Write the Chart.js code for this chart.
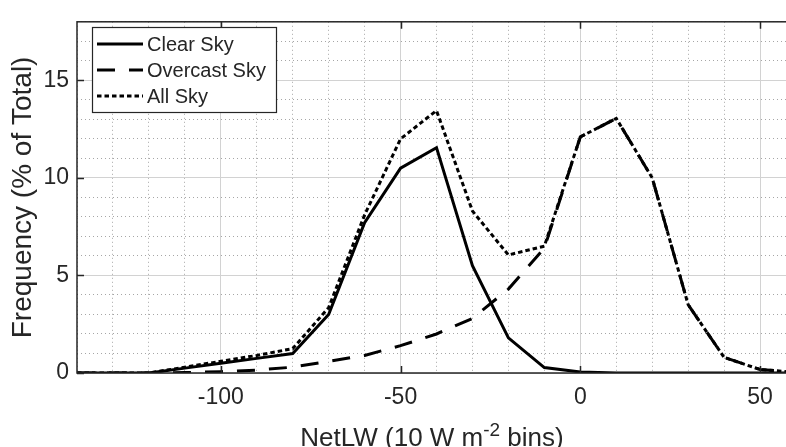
<!DOCTYPE html>
<html>
<head>
<meta charset="utf-8">
<script src="https://cdn.jsdelivr.net/npm/chart.js@4.4.1/dist/chart.umd.min.js"></script>
<style>
  html, body { margin: 0; padding: 0; background: #fff; overflow: hidden; }
  #wrap { position: absolute; left: 0; top: 0; width: 797px; height: 447px; }
</style>
</head>
<body>
<div id="wrap"><canvas id="chart"></canvas></div>
<script>
'use strict';

// NetLW bin centres (W m-2)
const BINS = [-140, -130, -120, -110, -100, -90, -80, -70, -60, -50, -40, -30, -20, -10, 0, 10, 20, 30, 40, 50, 60];

// frequency, % of total
const CLEAR_SKY    = [0, 0, 0, 0.25, 0.5, 0.75, 1.0, 3.0, 7.7, 10.5, 11.55, 5.5, 1.8, 0.28, 0.05, 0, 0, 0, 0, 0, 0];
const OVERCAST_SKY = [0, 0, 0, 0.02, 0.07, 0.15, 0.3, 0.6, 0.9, 1.4, 2.0, 2.8, 4.3, 6.4, 12.1, 13.05, 10.0, 3.5, 0.8, 0.18, 0.03];
const ALL_SKY      = [0, 0, 0, 0.3, 0.6, 0.9, 1.25, 3.35, 8.1, 12.0, 13.45, 8.3, 6.05, 6.5, 12.1, 13.05, 10.0, 3.5, 0.8, 0.18, 0.03];

const X_TICKS = [-100, -50, 0, 50];
const Y_TICKS = [0, 5, 10, 15];

const FONT = '"Liberation Sans", Arial, Helvetica, sans-serif';
const INK = '#262626';

const toPoints = (ys) => ys.map((v, i) => ({ x: BINS[i], y: v }));

// axes box, inward tick marks, x label with superscript, legend
const matlabAxes = {
  id: 'matlabAxes',
  afterDatasetsDraw(chart) {
    const { ctx, chartArea: a, scales: { x, y } } = chart;
    ctx.save();
    ctx.strokeStyle = INK;
    ctx.lineWidth = 1.5;
    ctx.strokeRect(a.left, a.top, a.right - a.left, a.bottom - a.top);
    ctx.beginPath();
    X_TICKS.forEach(v => {
      const px = Math.round(x.getPixelForValue(v)) + 0.5;
      ctx.moveTo(px, a.bottom); ctx.lineTo(px, a.bottom - 7);
      ctx.moveTo(px, a.top); ctx.lineTo(px, a.top + 7);
    });
    Y_TICKS.forEach(v => {
      const py = Math.round(y.getPixelForValue(v)) + 0.5;
      ctx.moveTo(a.left, py); ctx.lineTo(a.left + 7, py);
      ctx.moveTo(a.right, py); ctx.lineTo(a.right - 7, py);
    });
    ctx.stroke();

    // x axis title
    const parts = [['NetLW (10 W m', 26, 0], ['-2', 19, -10], [' bins)', 26, 0]];
    ctx.fillStyle = INK;
    ctx.textBaseline = 'alphabetic';
    ctx.textAlign = 'left';
    let total = 0;
    parts.forEach(p => { ctx.font = `${p[1]}px ${FONT}`; total += ctx.measureText(p[0]).width; });
    let cx = 432 - total / 2;
    parts.forEach(p => {
      ctx.font = `${p[1]}px ${FONT}`;
      ctx.fillText(p[0], cx, 446 + p[2]);
      cx += ctx.measureText(p[0]).width;
    });
    ctx.restore();
  },
  afterDraw(chart) {
    const { ctx } = chart;
    ctx.save();
    ctx.fillStyle = '#fff';
    ctx.fillRect(92, 27, 184, 85);
    ctx.strokeStyle = INK;
    ctx.lineWidth = 1.2;
    ctx.strokeRect(92.5, 27.5, 184, 85);
    ctx.font = `20px ${FONT}`;
    ctx.textBaseline = 'middle';
    ctx.textAlign = 'left';
    chart.data.datasets.forEach((ds, i) => {
      const ry = 44 + i * 26;
      ctx.beginPath();
      ctx.strokeStyle = '#000';
      ctx.lineWidth = ds.borderWidth;
      ctx.setLineDash(ds.borderDash || []);
      ctx.moveTo(97, ry);
      ctx.lineTo(143, ry);
      ctx.stroke();
      ctx.setLineDash([]);
      ctx.fillStyle = INK;
      ctx.fillText(ds.label, 147, ry + 1);
    });
    ctx.restore();
  }
};

new Chart(document.getElementById('chart'), {
  type: 'line',
  data: {
    datasets: [{
      label: 'Clear Sky',
      data: toPoints(CLEAR_SKY),
      borderColor: '#000',
      borderWidth: 3,
      borderDash: [],
      pointRadius: 0,
      tension: 0
    }, {
      label: 'Overcast Sky',
      data: toPoints(OVERCAST_SKY),
      borderColor: '#000',
      borderWidth: 3,
      borderDash: [18, 14],
      pointRadius: 0,
      tension: 0
    }, {
      label: 'All Sky',
      data: toPoints(ALL_SKY),
      borderColor: '#000',
      borderWidth: 3,
      borderDash: [4.5, 3],
      pointRadius: 0,
      tension: 0
    }]
  },
  options: {
    responsive: true,
    maintainAspectRatio: false,
    animation: false,
    layout: { padding: { left: 0, right: 1, top: 13, bottom: 0 } },
    plugins: { legend: { display: false }, tooltip: { enabled: false } },
    scales: {
      xMinor: {
        type: 'linear', position: 'bottom', min: -140, max: 60,
        ticks: { display: false, stepSize: 10 },
        grid: { color: 'rgba(0,0,0,0.35)', lineWidth: 1, drawTicks: false, z: -1 },
        border: { display: false, dash: [1, 3] },
        afterFit: s => { s.height = 0; }
      },
      yMinor: {
        type: 'linear', position: 'left', min: 0, max: 18,
        ticks: { display: false, stepSize: 1 },
        grid: { color: 'rgba(0,0,0,0.35)', lineWidth: 1, drawTicks: false, z: -1 },
        border: { display: false, dash: [1, 3] },
        afterFit: s => { s.width = 0; }
      },
      x: {
        type: 'linear', position: 'bottom', min: -140, max: 60,
        afterBuildTicks: s => { s.ticks = X_TICKS.map(v => ({ value: v })); },
        ticks: { color: INK, font: { family: FONT, size: 23 }, padding: 11, maxRotation: 0 },
        grid: { color: '#d2d2d2', lineWidth: 1, drawTicks: false },
        border: { display: false },
        afterFit: s => { s.height = 74; }
      },
      y: {
        type: 'linear', position: 'left', min: 0, max: 18,
        afterBuildTicks: s => { s.ticks = Y_TICKS.map(v => ({ value: v })); },
        ticks: { color: INK, font: { family: FONT, size: 23 }, padding: 8 },
        grid: { color: '#d2d2d2', lineWidth: 1, drawTicks: false },
        border: { display: false },
        title: { display: true, text: 'Frequency (% of Total)', color: INK, font: { family: FONT, size: 28 }, padding: { top: 6, bottom: 0 } },
        afterFit: s => { s.width = 77; }
      }
    }
  },
  plugins: [matlabAxes]
});
</script>
</body>
</html>
